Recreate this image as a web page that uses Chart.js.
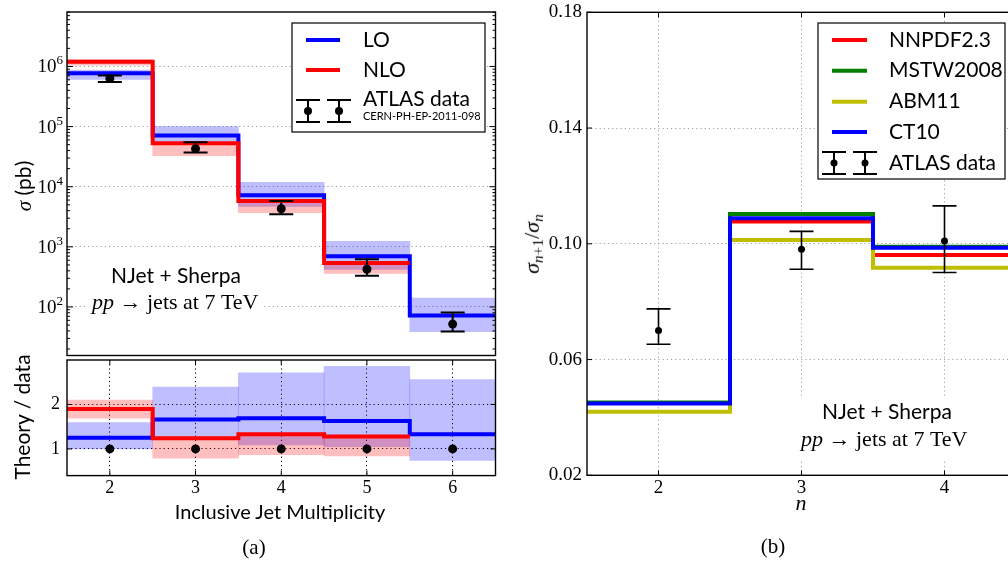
<!DOCTYPE html>
<html>
<head>
<meta charset="utf-8">
<script src="https://cdn.jsdelivr.net/npm/chart.js@4.4.0/dist/chart.umd.min.js"></script>
<style>
  html, body { margin: 0; padding: 0; background: #fff; overflow: hidden; width: 1008px; height: 563px; }
  .box { position: absolute; }
  .lbl { position: absolute; white-space: nowrap; color: #000; line-height: 1; transform: translate(-50%, -50%); }
  .rot { transform: translate(-50%, -50%) rotate(-90deg); }
  .sans { font-family: Lato, sans-serif; }
  .serif { font-family: "Liberation Serif", serif; }
  sub { font-size: 70%; vertical-align: -0.25em; }
</style>
</head>
<body>
<div class="box" style="left:0;top:0;width:500px;height:360px"><canvas id="cTop"></canvas></div>
<div class="box" style="left:0;top:355px;width:500px;height:150px"><canvas id="cRatio"></canvas></div>
<div class="box" style="left:520px;top:0;width:500px;height:500px"><canvas id="cRight"></canvas></div>

<div class="lbl rot" style="left:23px;top:186px;font-size:21px"><i class="serif">σ</i><span class="sans"> (pb)</span></div>
<div class="lbl rot sans" style="left:21px;top:417px;font-size:21px">Theory / data</div>
<div class="lbl sans" style="left:280px;top:511px;font-size:20px">Inclusive Jet Multiplicity</div>
<div class="lbl serif" style="left:254px;top:547px;font-size:21px">(a)</div>
<div class="lbl rot serif" style="left:533px;top:244px;font-size:22px"><i>σ</i><sub><i>n</i>+1</sub>/<i>σ</i><sub><i>n</i></sub></div>
<div class="lbl serif" style="left:801px;top:503px;font-size:22px"><i>n</i></div>
<div class="lbl serif" style="left:773px;top:546px;font-size:21px">(b)</div>

<script>
// ---- panel (a): inclusive jet cross sections ----
const jetBins = [2, 3, 4, 5, 6];
const binEdges = [1.5, 2.5, 3.5, 4.5, 5.5, 6.5];
const decadeTicks = [1e2, 1e3, 1e4, 1e5, 1e6];

const loXsec    = [7.7e5, 7.1e4, 7.2e3, 7.0e2, 72];
const loBandLo  = [6.1e5, 5.3e4, 4.7e3, 4.2e2, 39];
const loBandHi  = [8.7e5, 1.0e5, 1.18e4, 1.24e3, 140];
const nloXsec   = [1.2e6, 5.3e4, 5.8e3, 5.4e2];
const nloBandLo = [1.05e6, 3.3e4, 3.7e3, 3.6e2];
const nloBandHi = [1.3e6, 5.3e4, 5.8e3, 5.4e2];
const atlasXsec = [6.3e5, 4.3e4, 4.3e3, 4.25e2, 52];
const atlasLo   = [5.5e5, 3.7e4, 3.5e3, 3.3e2, 39];
const atlasHi   = [7.1e5, 5.5e4, 5.8e3, 6.2e2, 81];

// theory / data
const ratioTicks = [1, 2];
const loRatio    = [1.25, 1.66, 1.69, 1.63, 1.33];
const loRatioLo  = [1.0, 1.25, 1.09, 1.05, 0.74];
const loRatioHi  = [1.59, 2.39, 2.71, 2.86, 2.56];
const nloRatio   = [1.90, 1.24, 1.33, 1.28];
const nloRatioLo = [1.69, 0.79, 0.87, 0.84];
const nloRatioHi = [2.10, 1.24, 1.33, 1.28];
const dataRatio  = [1, 1, 1, 1, 1];

// ---- panel (b): sigma_{n+1}/sigma_n ----
const nBins = [2, 3, 4];
const nEdges = [1.5, 2.5, 3.5, 4.5];
const rTicksY = [0.02, 0.06, 0.10, 0.14, 0.18];
const nnpdf = [0.0450, 0.1077, 0.0961];
const mstw  = [0.0452, 0.1103, 0.0990];
const abm11 = [0.0420, 0.1013, 0.0917];
const ct10  = [0.0448, 0.1088, 0.0986];
const atlasR   = [0.0700, 0.0981, 0.1010];
const atlasRLo = [0.0653, 0.0912, 0.0901];
const atlasRHi = [0.0775, 0.1043, 0.1131];

const BLUE = '#0000ff', RED = '#ff0000', GREEN = '#007f00', YELLOW = '#bfbf00';
const SANS = 'Lato, sans-serif';
const SERIF = '"Liberation Serif", serif';

const stepPoints = (edges, vals) =>
  vals.map((v, i) => ({ x: edges[i], y: v })).concat([{ x: edges[vals.length], y: vals[vals.length - 1] }]);
const bandPoints = (xs, lo, hi) => lo.map((l, i) => ({ x: xs[i], y: [l, hi[i]] }));
const dots = (xs, ys) => xs.map((x, i) => ({ x: x, y: ys[i] }));
const fixTicks = vals => s => { s.ticks = vals.map(v => ({ value: v })); };

const stepLine = (data, color, order) => ({
  type: 'line', data: data, borderColor: color, borderWidth: 4, stepped: true,
  pointRadius: 0, fill: false, order: order, borderJoinStyle: 'miter', borderCapStyle: 'butt'
});
const band = (data, color, order) => ({
  type: 'bar', data: data, backgroundColor: color, borderWidth: 0,
  barPercentage: 1, categoryPercentage: 1, grouped: false, order: order
});
const points = (data, r) => ({
  type: 'line', data: data, showLine: false, pointRadius: r, pointBackgroundColor: '#000',
  pointBorderWidth: 0, order: 0
});

function runs(ctx, x, y, parts) {
  ctx.textBaseline = 'middle';
  ctx.textAlign = 'left';
  parts.forEach(p => {
    ctx.font = p.f;
    ctx.fillText(p.t, x, y + (p.dy || 0));
    x += ctx.measureText(p.t).width;
  });
}

function drawErr(ctx, chart, xs, lo, hi, cap, lw) {
  const xS = chart.scales.x, yS = chart.scales.y;
  ctx.save();
  ctx.strokeStyle = '#000';
  ctx.lineWidth = lw;
  xs.forEach((x, i) => {
    const px = xS.getPixelForValue(x);
    const y0 = yS.getPixelForValue(lo[i]), y1 = yS.getPixelForValue(hi[i]);
    ctx.beginPath();
    ctx.moveTo(px, y0); ctx.lineTo(px, y1);
    ctx.moveTo(px - cap, y0); ctx.lineTo(px + cap, y0);
    ctx.moveTo(px - cap, y1); ctx.lineTo(px + cap, y1);
    ctx.stroke();
  });
  ctx.restore();
}

function legendErr(ctx, x, y0, y1, cap, lw, r) {
  ctx.strokeStyle = '#000'; ctx.fillStyle = '#000'; ctx.lineWidth = lw;
  ctx.beginPath();
  ctx.moveTo(x, y0); ctx.lineTo(x, y1);
  ctx.moveTo(x - cap, y0); ctx.lineTo(x + cap, y0);
  ctx.moveTo(x - cap, y1); ctx.lineTo(x + cap, y1);
  ctx.stroke();
  ctx.beginPath(); ctx.arc(x, (y0 + y1) / 2, r, 0, Math.PI * 2); ctx.fill();
}

function frameAndTicks(chart, xTicks, yTicks, len) {
  const ctx = chart.ctx, a = chart.chartArea;
  const xS = chart.scales.x, yS = chart.scales.y;
  ctx.save();
  ctx.strokeStyle = '#000';
  ctx.lineWidth = 1;
  ctx.beginPath();
  xTicks.forEach(v => {
    const p = xS.getPixelForValue(v);
    ctx.moveTo(p, a.bottom); ctx.lineTo(p, a.bottom - len);
    ctx.moveTo(p, a.top); ctx.lineTo(p, a.top + len);
  });
  yTicks.forEach(t => {
    const p = yS.getPixelForValue(t.v);
    ctx.moveTo(a.left, p); ctx.lineTo(a.left + t.len, p);
    ctx.moveTo(a.right, p); ctx.lineTo(a.right - t.len, p);
  });
  ctx.stroke();
  ctx.lineWidth = 1.4;
  ctx.strokeRect(a.left, a.top, a.right - a.left, a.bottom - a.top);
  ctx.restore();
}

Chart.defaults.font.family = SERIF;
Chart.defaults.color = '#000';

const base = {
  animation: false, responsive: true, maintainAspectRatio: false, events: [],
  plugins: { legend: { display: false }, tooltip: { enabled: false } }
};

// ---------- top left: cross sections ----------
new Chart(document.getElementById('cTop'), {
  type: 'line',
  data: {
    datasets: [
      band(bandPoints(jetBins, loBandLo, loBandHi), 'rgba(0,0,255,0.25)', 10),
      band(bandPoints(jetBins, nloBandLo, nloBandHi), 'rgba(255,0,0,0.25)', 9),
      stepLine(stepPoints(binEdges, loXsec), BLUE, 2),
      stepLine(stepPoints(binEdges, nloXsec), RED, 1),
      points(dots(jetBins, atlasXsec), 4.5)
    ]
  },
  options: Object.assign({}, base, {
    layout: { padding: { top: 12, right: 4, bottom: 1, left: 0 } },
    scales: {
      x: {
        type: 'linear', min: 1.5, max: 6.5, offset: false,
        afterBuildTicks: fixTicks(jetBins),
        grid: { display: false, offset: false }, border: { display: false },
        ticks: { display: false },
        afterFit: s => { s.height = 0; s.paddingLeft = 0; s.paddingRight = 0; }
      },
      y: {
        type: 'logarithmic', min: 15.6, max: 8.05e6,
        afterBuildTicks: fixTicks(decadeTicks),
        afterFit: s => { s.width = 67; s.paddingTop = 0; s.paddingBottom = 0; },
        ticks: { display: false },
        grid: { color: '#9a9a9a', lineWidth: 1, drawTicks: false },
        border: { display: false, dash: [1.2, 3] }
      }
    }
  }),
  plugins: [{
    id: 'decorTop',
    afterDatasetsDraw(chart) {
      drawErr(chart.ctx, chart, jetBins, atlasLo, atlasHi, 12, 2);
    },
    afterDraw(chart) {
      const ctx = chart.ctx, yS = chart.scales.y;
      const yt = [];
      decadeTicks.concat([1e1]).forEach(d => {
        yt.push({ v: d, len: 6 });
        for (let m = 2; m < 10; m++) yt.push({ v: d * m, len: 3 });
      });
      frameAndTicks(chart, [], yt.filter(t => t.v >= yS.min && t.v <= yS.max), 0);

      ctx.save();
      ctx.fillStyle = '#000';
      // decade labels 10^k
      decadeTicks.forEach(v => {
        const p = yS.getPixelForValue(v);
        const k = String(Math.round(Math.log10(v)));
        ctx.font = '13px ' + SERIF;
        const wk = ctx.measureText(k).width;
        ctx.textAlign = 'right'; ctx.textBaseline = 'alphabetic';
        ctx.fillText(k, 63, p - 2);
        ctx.font = '19px ' + SERIF;
        ctx.fillText('10', 63 - wk, p + 6);
      });

      // annotation
      ctx.fillStyle = '#fff';
      ctx.fillRect(86, 262, 177, 56);
      ctx.fillStyle = '#000';
      ctx.font = '21px ' + SANS;
      ctx.textAlign = 'center'; ctx.textBaseline = 'middle';
      ctx.fillText('NJet + Sherpa', 176, 276);
      runs(ctx, 92, 303, [
        { t: 'pp', f: 'italic 22px ' + SERIF },
        { t: ' → ', f: '22px ' + SERIF },
        { t: 'jets at 7 TeV', f: '22px ' + SERIF }
      ]);

      // legend
      ctx.fillStyle = '#fff'; ctx.strokeStyle = '#000'; ctx.lineWidth = 1.2;
      ctx.fillRect(292, 23, 193, 109);
      ctx.strokeRect(292, 23, 193, 109);
      ctx.lineWidth = 4;
      [[BLUE, 40, 'LO'], [RED, 70, 'NLO']].forEach(e => {
        ctx.strokeStyle = e[0];
        ctx.beginPath(); ctx.moveTo(306, e[1]); ctx.lineTo(340, e[1]); ctx.stroke();
        ctx.fillStyle = '#000'; ctx.font = '21px ' + SANS;
        ctx.textAlign = 'left'; ctx.textBaseline = 'middle';
        ctx.fillText(e[2], 363, e[1]);
      });
      legendErr(ctx, 308, 100, 122, 12, 2, 4);
      legendErr(ctx, 339, 100, 122, 12, 2, 4);
      ctx.font = '21px ' + SANS; ctx.textAlign = 'left'; ctx.textBaseline = 'middle';
      ctx.fillText('ATLAS data', 363, 99);
      ctx.font = '11px ' + SANS;
      ctx.fillText('CERN-PH-EP-2011-098', 363, 116);
      ctx.restore();
    }
  }]
});

// ---------- bottom left: theory / data ----------
new Chart(document.getElementById('cRatio'), {
  type: 'line',
  data: {
    datasets: [
      band(bandPoints(jetBins, loRatioLo, loRatioHi), 'rgba(0,0,255,0.25)', 10),
      band(bandPoints(jetBins, nloRatioLo, nloRatioHi), 'rgba(255,0,0,0.25)', 9),
      stepLine(stepPoints(binEdges, loRatio), BLUE, 2),
      stepLine(stepPoints(binEdges, nloRatio), RED, 1),
      points(dots(jetBins, dataRatio), 4.5)
    ]
  },
  options: Object.assign({}, base, {
    layout: { padding: { top: 5, right: 4, bottom: 0, left: 0 } },
    scales: {
      x: {
        type: 'linear', min: 1.5, max: 6.5, offset: false,
        afterBuildTicks: fixTicks(jetBins),
        ticks: { padding: 2, font: { size: 18, family: SERIF } },
        grid: { color: '#000', lineWidth: 1, drawTicks: false, offset: false },
        border: { display: false, dash: [1.2, 3] },
        afterFit: s => { s.height = 29.4; s.paddingLeft = 0; s.paddingRight = 0; }
      },
      y: {
        min: 0.4, max: 3.0,
        afterBuildTicks: fixTicks(ratioTicks),
        afterFit: s => { s.width = 67; s.paddingTop = 0; s.paddingBottom = 0; },
        ticks: { padding: 7, font: { size: 18, family: SERIF } },
        grid: { color: '#000', lineWidth: 1, drawTicks: false },
        border: { display: false, dash: [1.2, 3] }
      }
    }
  }),
  plugins: [{
    id: 'decorRatio',
    afterDraw(chart) {
      frameAndTicks(chart, jetBins, ratioTicks.map(v => ({ v: v, len: 5 })), 5);
    }
  }]
});

// ---------- right: sigma_{n+1}/sigma_n ----------
new Chart(document.getElementById('cRight'), {
  type: 'line',
  data: {
    datasets: [
      stepLine(stepPoints(nEdges, nnpdf), RED, 4),
      stepLine(stepPoints(nEdges, mstw), GREEN, 3),
      stepLine(stepPoints(nEdges, abm11), YELLOW, 2),
      stepLine(stepPoints(nEdges, ct10), BLUE, 1),
      points(dots(nBins, atlasR), 3.5)
    ]
  },
  options: Object.assign({}, base, {
    layout: { padding: { top: 12.3, right: 4, bottom: 0, left: 0 } },
    scales: {
      x: {
        type: 'linear', min: 1.5, max: 4.5, offset: false,
        afterBuildTicks: fixTicks(nBins),
        ticks: { padding: 1, font: { size: 19, family: SERIF } },
        grid: { color: '#a0a0a0', lineWidth: 1, drawTicks: false },
        border: { display: false, dash: [1.2, 3] },
        afterFit: s => { s.height = 24.7; s.paddingLeft = 0; s.paddingRight = 0; }
      },
      y: {
        min: 0.02, max: 0.18,
        afterBuildTicks: fixTicks(rTicksY),
        afterFit: s => { s.width = 67; s.paddingTop = 0; s.paddingBottom = 0; },
        ticks: { padding: 5, font: { size: 19, family: SERIF }, callback: v => v.toFixed(2) },
        grid: { color: '#a0a0a0', lineWidth: 1, drawTicks: false },
        border: { display: false, dash: [1.2, 3] }
      }
    }
  }),
  plugins: [{
    id: 'decorRight',
    afterDatasetsDraw(chart) {
      drawErr(chart.ctx, chart, nBins, atlasRLo, atlasRHi, 12, 1.6);
    },
    afterDraw(chart) {
      const ctx = chart.ctx;
      frameAndTicks(chart, nBins, rTicksY.map(v => ({ v: v, len: 5 })), 5);
      ctx.save();
      // annotation
      ctx.fillStyle = '#fff';
      ctx.fillRect(277, 397, 176, 64);
      ctx.fillStyle = '#000';
      ctx.font = '21px ' + SANS; ctx.textAlign = 'left'; ctx.textBaseline = 'middle';
      ctx.fillText('NJet + Sherpa', 302, 412);
      runs(ctx, 281, 440, [
        { t: 'pp', f: 'italic 22px ' + SERIF },
        { t: ' → ', f: '22px ' + SERIF },
        { t: 'jets at 7 TeV', f: '22px ' + SERIF }
      ]);
      // legend
      ctx.fillStyle = '#fff'; ctx.strokeStyle = '#000'; ctx.lineWidth = 1.2;
      ctx.fillRect(298, 23, 187, 156);
      ctx.strokeRect(298, 23, 187, 156);
      ctx.lineWidth = 4;
      [[RED, 40, 'NNPDF2.3'], [GREEN, 70.7, 'MSTW2008'], [YELLOW, 101.7, 'ABM11'], [BLUE, 132, 'CT10']].forEach(e => {
        ctx.strokeStyle = e[0];
        ctx.beginPath(); ctx.moveTo(312, e[1]); ctx.lineTo(347, e[1]); ctx.stroke();
        ctx.fillStyle = '#000'; ctx.font = '21px ' + SANS;
        ctx.textAlign = 'left'; ctx.textBaseline = 'middle';
        ctx.fillText(e[2], 369, e[1]);
      });
      legendErr(ctx, 314, 152, 174, 12, 2, 3.5);
      legendErr(ctx, 345, 152, 174, 12, 2, 3.5);
      ctx.fillStyle = '#000'; ctx.font = '21px ' + SANS;
      ctx.textAlign = 'left'; ctx.textBaseline = 'middle';
      ctx.fillText('ATLAS data', 369, 163);
      ctx.restore();
    }
  }]
});
</script>
</body>
</html>
